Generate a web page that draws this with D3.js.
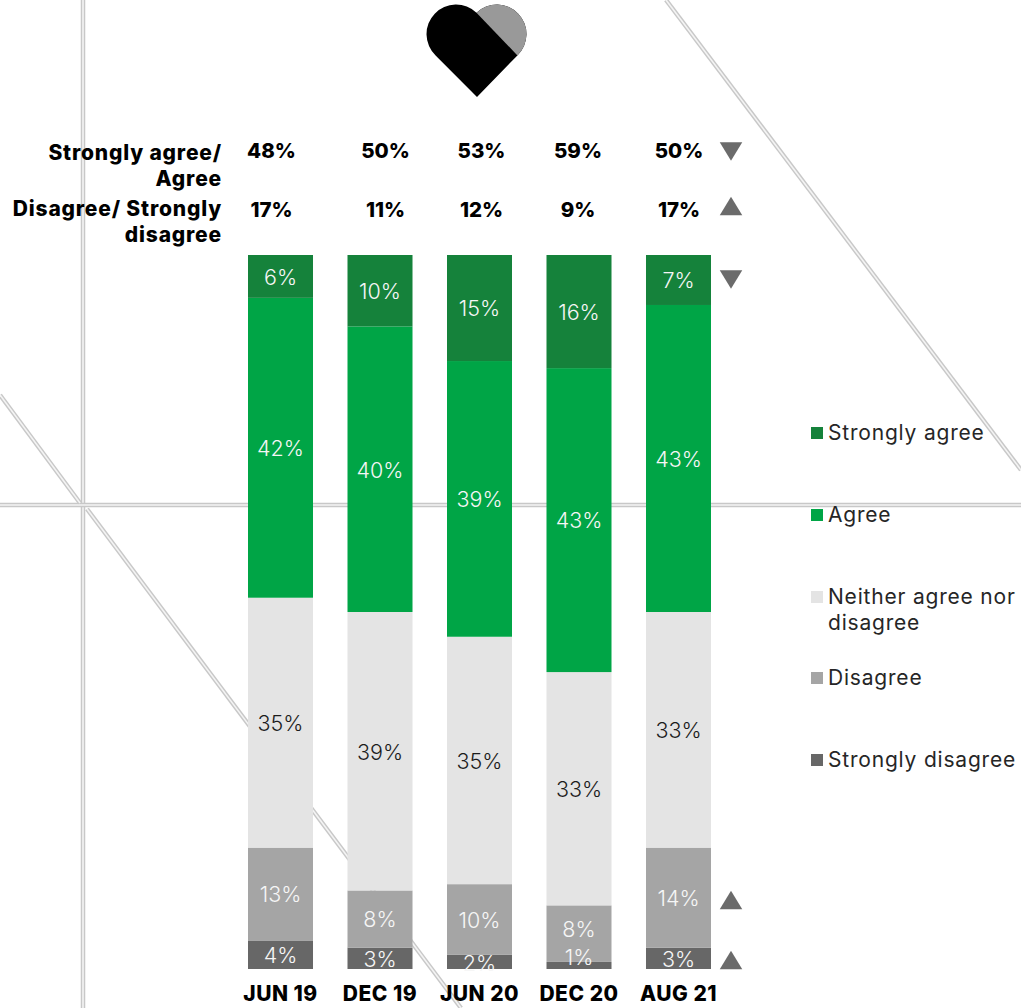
<!DOCTYPE html>
<html><head><meta charset="utf-8">
<script src="https://cdnjs.cloudflare.com/ajax/libs/d3/7.8.5/d3.min.js"></script>
<style>html,body{margin:0;padding:0;background:#fff}svg{display:block}text{font-family:Inter,"Open Sans",sans-serif}</style>
</head><body><div id="c"></div>
<script>
const periods = ["JUN 19","DEC 19","JUN 20","DEC 20","AUG 21"];
const seriesNames = ["Strongly agree","Agree","Neither agree nor disagree","Disagree","Strongly disagree"];
const stronglyAgree = [6,10,15,16,7];
const agree = [42,40,39,43,43];
const neither = [35,39,35,33,33];
const disagree = [13,8,10,8,14];
const stronglyDisagree = [4,3,2,1,3];
const netAgree = [48,50,53,59,50];
const netDisagree = [17,11,12,9,17];
const seriesColors = ["#15823b","#00a546","#e4e4e4","#a5a5a5","#676767"];
const labelColors = ["#f6f6f6","#f6f6f6","#1c1c1c","#f6f6f6","#f6f6f6"];

const W=1021,H=1008;
const svg=d3.select("#c").append("svg").attr("width",W).attr("height",H);

// background decorative double lines
const bg=[[83,0,83,1008],[0,505,1021,505],[0,395,80,503],[87,509,461,1008],[666,0,1021,470]];
bg.forEach(l=>{
  svg.append("line").attr("x1",l[0]).attr("y1",l[1]).attr("x2",l[2]).attr("y2",l[3]).attr("stroke","#c8c8c8").attr("stroke-width",4.5);
  svg.append("line").attr("x1",l[0]).attr("y1",l[1]).attr("x2",l[2]).attr("y2",l[3]).attr("stroke","#f4f4f4").attr("stroke-width",1.6);
});

// heart
svg.append("path").attr("fill","#000")
  .attr("d","M477 97 L435.6 55.4 A29.5 29.5 0 0 1 476.5 12.8 A29.5 29.5 0 0 1 517.4 55.4 Z");
svg.append("path").attr("fill","#999")
  .attr("d","M476.5 12.8 A29.5 29.5 0 0 1 517.4 55.4 Z");

const x=d3.scaleBand().domain(periods).range([248,711]).paddingInner(0.3467);
const y=d3.scaleLinear().domain([0,1]).range([969,255]);
const rows=periods.map((p,i)=>({period:p,[seriesNames[0]]:stronglyAgree[i],[seriesNames[1]]:agree[i],[seriesNames[2]]:neither[i],[seriesNames[3]]:disagree[i],[seriesNames[4]]:stronglyDisagree[i]}));
const stack=d3.stack().keys(seriesNames.slice().reverse()).offset(d3.stackOffsetExpand);
const color=d3.scaleOrdinal(seriesNames,seriesColors);
const lcolor=d3.scaleOrdinal(seriesNames,labelColors);
const layers=stack(rows);

layers.forEach(layer=>{
  svg.append("g").selectAll("rect").data(layer).join("rect")
    .attr("x",d=>x(d.data.period)).attr("width",x.bandwidth())
    .attr("y",d=>y(d[1])).attr("height",d=>y(d[0])-y(d[1]))
    .attr("fill",color(layer.key));
});
const nudge={"DEC 20|Disagree":-5,"DEC 20|Strongly disagree":-9,"JUN 20|Strongly disagree":1};
layers.forEach(layer=>{
  svg.append("g").selectAll("text").data(layer).join("text")
    .attr("x",d=>x(d.data.period)+x.bandwidth()/2)
    .attr("y",d=>(y(d[0])+y(d[1]))/2+(nudge[d.data.period+"|"+layer.key]||0))
    .attr("dy","0.39em").attr("text-anchor","middle")
    .attr("font-size",21.5).attr("font-weight",300).attr("fill",lcolor(layer.key))
    .text(d=>d.data[layer.key]+"%");
});

// x axis
const axis=svg.append("g").attr("transform","translate(0,985)")
  .call(d3.axisBottom(x).tickSize(0).tickPadding(0));
axis.select(".domain").remove();
axis.selectAll("text").attr("font-size",21).attr("font-weight",800).attr("fill","#000")
  .attr("font-family","Inter").attr("letter-spacing",0.5).attr("dy","0.75em").attr("y",0);

// net rows
const headX=d3.scaleOrdinal(periods,[271.5,385.5,481.5,578,679]);
[[netAgree,151],[netDisagree,209.5]].forEach(([arr,yy])=>{
  svg.append("g").selectAll("text").data(arr).join("text")
    .attr("x",(d,i)=>headX(periods[i])).attr("y",yy).attr("dy","0.36em")
    .attr("text-anchor","middle").attr("font-size",20.5).attr("font-weight",800).attr("fill","#000")
    .text(d=>d+"%");
});
[["Strongly agree/",152],["Agree",178],["Disagree/ Strongly",208],["disagree",234]].forEach(([t,yy])=>{
  svg.append("text").attr("x",222).attr("y",yy).attr("dy","0.36em").attr("text-anchor","end")
    .attr("font-size",21).attr("font-weight",800).attr("letter-spacing",0.82).attr("fill","#000").text(t);
});

// change markers
[[731,151.5,1],[731,206,0],[731,279.5,1],[731,900,0],[731,960,0]].forEach(([a,b,down])=>{
  const h=18.7,w=22.5;
  svg.append("path").attr("fill","#6b6b6b")
    .attr("d",down?`M${a-w/2} ${b-h/2}H${a+w/2}L${a} ${b+h/2}Z`:`M${a-w/2} ${b+h/2}H${a+w/2}L${a} ${b-h/2}Z`);
});

// legend
const legendY=d3.scaleOrdinal(seriesNames,[433,515,597,678,760]);
const legendLines=[["Strongly agree"],["Agree"],["Neither agree nor","disagree"],["Disagree"],["Strongly disagree"]];
const lg=svg.append("g");
seriesNames.forEach((s,i)=>{
  lg.append("rect").attr("x",811).attr("y",legendY(s)-6).attr("width",12).attr("height",12).attr("fill",seriesColors[i]);
  legendLines[i].forEach((t,j)=>{
    lg.append("text").attr("x",828).attr("y",legendY(s)+j*26-0.5).attr("dy","0.36em")
      .attr("font-size",21).attr("font-weight",400).attr("letter-spacing",0.8).attr("fill","#262626").text(t);
  });
});
</script></body></html>
